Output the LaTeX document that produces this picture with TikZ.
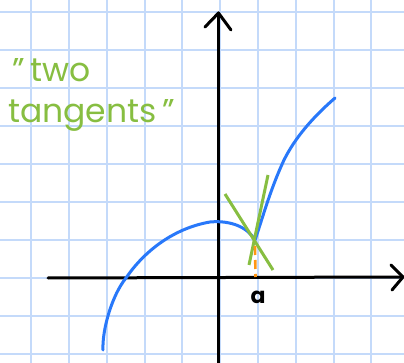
\documentclass[tikz,border=0pt]{standalone}
\usepackage{fontspec}
\setmainfont{Poppins}
\begin{document}
\begin{tikzpicture}[x=1pt,y=-1pt,
  gridline/.style={draw={rgb,255:red,196;green,218;blue,250},line width=2pt},
  axis/.style={draw=black,line width=3pt,line cap=round,line join=round},
  curve/.style={draw={rgb,255:red,40;green,120;blue,250},line width=3pt,line cap=round},
  tang/.style={draw={rgb,255:red,135;green,190;blue,65},line width=3pt},
  guide/.style={draw={rgb,255:red,255;green,150;blue,20},line width=2.6pt,dash pattern=on 9pt off 5pt},
  note/.style={text={rgb,255:red,135;green,190;blue,65},font=\fontsize{33}{33}\selectfont,inner sep=0pt,anchor=base west},
  lbl/.style={font=\bfseries\fontsize{22}{22}\selectfont,inner sep=0pt}]
\useasboundingbox (0,0) rectangle (404,363);
\fill[white] (0,0) rectangle (404,363);
% grid
\foreach \i in {0,...,10} {
  \draw[gridline] ({31.2+37.8*\i},0) -- ({31.2+37.8*\i},363);
}
\foreach \j in {0,...,9} {
  \draw[gridline] (0,{12.5+37.9*\j}) -- (404,{12.5+37.9*\j});
}
% axes
\coordinate (ybot) at (218.5,363);
\coordinate (ytop) at (218.5,13);
\coordinate (xl) at (48,278);
\coordinate (xr) at (403,277);
\draw[axis] (ybot) -- (ytop);
\draw[axis] (205,27) -- (ytop) -- (231,30);
\draw[axis] (xl) -- (xr);
\draw[axis] (391,265) -- (xr) -- (392,290);
% curve
\draw[curve] (103,350) .. controls (102,330) and (112,295) .. (126,278)
  .. controls (145,250) and (175,228) .. (210,222)
  .. controls (232,220) and (248,228) .. (255,240);
\draw[curve] (255,240) .. controls (262,220) and (270,190) .. (284,160)
  .. controls (295,138) and (312,118) .. (335,98);
% tangents
\coordinate (t1a) at (225,194);
\coordinate (t1b) at (273,270);
\coordinate (t2a) at (268,175);
\coordinate (t2b) at (249,265);
\draw[tang] (t1a) -- (t1b);
\draw[tang] (t2a) -- (t2b);
% guide
\coordinate (p) at (255,246);
\coordinate (pa) at (255.5,277);
\draw[guide] (p) -- (pa);
\node[lbl] (a) at (258,297) {a};
% note
\node[note] (n1) at (12,82) {"\,two};
\node[note] (n2) at (8,123) {tangents\,"};
\end{tikzpicture}
\end{document}
